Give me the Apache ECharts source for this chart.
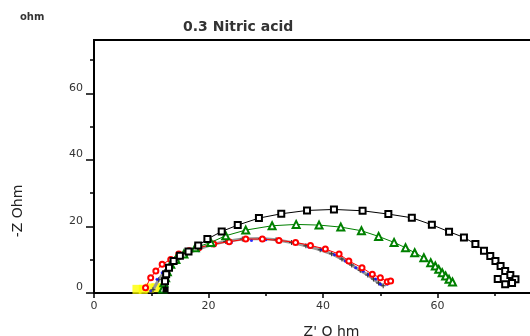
<!DOCTYPE html>
<html>
<head>
<meta charset="utf-8">
<script src="https://cdn.jsdelivr.net/npm/echarts@6/dist/echarts.min.js"></script>
<style>
html,body{margin:0;padding:0;background:#fff;}
#chart{width:530px;height:336px;}
</style>
</head>
<body>
<div id="chart"></div>
<script>
// ---- data (Z' in ohm, -Z'' in ohm) ----
var titleText = '0.3 Nitric acid';
var xName = "Z' O hm";
var yName = '-Z Ohm';
var unitText = 'ohm';

var xTicks = [0, 20, 40, 60];
var xMinorTicks = [10, 30, 50, 70];
var yTicks = [0, 20, 40, 60];
var yMinorTicks = [10, 30, 50, 70];

var redX = [9.0, 9.9, 10.8, 11.9, 13.4, 14.8, 16.6, 18.3, 20.9, 23.6, 26.5, 29.4, 32.3, 35.2, 37.8, 40.4, 42.8, 44.5, 46.8, 48.6, 50.0, 51.2, 51.8];
var redY = [1.6, 4.6, 6.6, 8.6, 10.1, 11.7, 12.7, 13.6, 14.7, 15.4, 16.2, 16.2, 15.8, 15.2, 14.3, 13.2, 11.7, 9.6, 7.6, 5.6, 4.6, 3.4, 3.6];

var blueX = [9.9, 11.0, 11.9, 13.1, 14.3, 15.7, 18.3, 21.0, 24.0, 27.5, 30.0, 32.3, 35.0, 37.5, 39.8, 42.0, 43.9, 45.7, 47.0, 48.0, 49.2, 50.0, 51.2];
var blueY = [0.6, 4.1, 6.1, 8.1, 9.6, 11.1, 12.7, 14.2, 15.2, 15.8, 16.0, 15.9, 15.2, 13.8, 13.1, 11.5, 9.6, 7.6, 6.5, 5.6, 4.2, 2.6, 2.6];

var grayX = [10.3, 11.3, 12.3, 13.5, 14.8, 16.3, 18.0, 20.5, 23.0, 25.9, 29.1, 31.8, 34.5, 37.0, 39.5, 41.5, 43.3, 45.0, 46.5, 47.8, 48.8, 49.7, 50.5];
var grayY = [1.0, 4.0, 6.4, 8.5, 10.2, 11.8, 13.1, 14.5, 15.5, 16.2, 16.4, 16.0, 15.2, 14.2, 13.0, 11.8, 10.2, 8.4, 6.8, 5.4, 4.2, 3.0, 2.2];

var greenX = [12.0, 12.2, 12.5, 12.8, 13.4, 14.3, 15.7, 17.7, 20.4, 23.0, 26.5, 31.1, 35.3, 39.3, 43.1, 46.7, 49.7, 52.4, 54.4, 56.0, 57.6, 58.8, 59.6, 60.2, 60.8, 61.4, 62.0, 62.6];
var greenY = [1.2, 3.1, 4.6, 6.4, 8.6, 10.1, 11.7, 13.6, 15.2, 17.2, 18.9, 20.2, 20.6, 20.4, 19.8, 18.7, 17.0, 15.2, 13.6, 12.1, 10.6, 9.1, 8.1, 7.1, 6.1, 5.1, 4.1, 3.3];

var blackX = [12.5, 12.4, 12.6, 13.1, 13.9, 15.0, 16.5, 18.2, 19.8, 22.3, 25.1, 28.8, 32.7, 37.2, 41.9, 46.9, 51.4, 55.5, 59.0, 62.0, 64.6, 66.6, 68.1, 69.2, 70.1, 71.0, 71.8, 72.7, 73.6, 73.0, 71.8, 70.5];
var blackY = [1.0, 3.5, 5.6, 7.6, 9.6, 11.2, 12.5, 14.3, 16.2, 18.5, 20.4, 22.5, 23.8, 24.8, 25.1, 24.7, 23.7, 22.6, 20.5, 18.4, 16.7, 14.7, 12.7, 11.1, 9.6, 8.1, 6.6, 5.4, 4.1, 3.0, 2.6, 4.2];

var yellowX = [7.5, 8.6, 9.7, 10.8, 11.9];
var yellowY = [1.1, 1.1, 1.5, 1.6, 1.6];

function pairs(xs, ys) { return xs.map(function (x, i) { return [x, ys[i]]; }); }

var FONT = 'DejaVu Sans';
var chart = echarts.init(document.getElementById('chart'), null, {renderer: 'canvas'});

var blackData = pairs(blackX, blackY).map(function (p, i) {
  return i === 0 ? {value: p, symbol: 'rect', itemStyle: {color: '#000'}} : p;
});

chart.setOption({
  animation: false,
  backgroundColor: '#fff',
  title: {
    text: titleText,
    left: 178, top: 15,
    textStyle: {fontFamily: FONT, fontSize: 14, fontWeight: 'bold', color: '#333'}
  },
  grid: {
    left: 94, top: 40, width: 465, height: 253,
    outerBoundsMode: 'none', containLabel: false,
    show: true, borderColor: '#000', borderWidth: 2, backgroundColor: 'transparent'
  },
  xAxis: [{
    type: 'value', min: 0, max: 81.2, interval: 20,
    name: xName, nameLocation: 'middle', nameGap: 32,
    nameTextStyle: {fontFamily: FONT, fontSize: 14, color: '#222', padding: [0, 0, 0, 10]},
    axisLine: {show: true, onZero: false, lineStyle: {color: '#000', width: 2}},
    axisTick: {show: true, length: 5, customValues: xTicks, lineStyle: {color: '#000', width: 1.5}},
    axisLabel: {show: true, customValues: xTicks, margin: 8, fontFamily: FONT, fontSize: 11, color: '#333'},
    splitLine: {show: false}
  }, {
    type: 'value', min: 0, max: 81.2, interval: 10, position: 'top', offset: -253,
    axisLine: {show: false, onZero: false},
    axisTick: {show: true, inside: true, length: 3, customValues: xMinorTicks, lineStyle: {color: '#000', width: 1.5}},
    axisLabel: {show: false},
    splitLine: {show: false}
  }],
  yAxis: [{
    type: 'value', min: 0, max: 76, interval: 20,
    axisLine: {show: true, onZero: false, lineStyle: {color: '#000', width: 2}},
    axisTick: {show: true, length: 8, customValues: yTicks, lineStyle: {color: '#000', width: 1.5}},
    axisLabel: {show: true, customValues: yTicks, margin: 11, verticalAlign: 'bottom', fontFamily: FONT, fontSize: 11, color: '#333'},
    splitLine: {show: false}
  }, {
    type: 'value', min: 0, max: 76, interval: 10, position: 'right', offset: -465,
    axisLine: {show: false, onZero: false},
    axisTick: {show: true, inside: true, length: 4, customValues: yMinorTicks, lineStyle: {color: '#000', width: 1.5}},
    axisLabel: {show: false},
    splitLine: {show: false}
  }],
  graphic: [{
    type: 'text', left: 20, top: 12,
    style: {text: unitText, font: 'bold 10px "DejaVu Sans"', fill: '#333'}
  }, {
    type: 'text', x: 18, y: 211, rotation: Math.PI / 2,
    style: {text: yName, font: '14px "DejaVu Sans"', fill: '#222', align: 'center', verticalAlign: 'middle'}
  }],
  series: [{
    name: 'yellow', type: 'scatter', data: pairs(yellowX, yellowY),
    symbol: 'rect', symbolSize: 9, itemStyle: {color: '#ffff00'}, z: 1
  }, {
    name: 'gray', type: 'line', data: pairs(grayX, grayY),
    symbol: 'path://M4,0H6V4H10V6H6V10H4V6H0V4H4Z', symbolSize: 5,
    itemStyle: {color: '#333'}, lineStyle: {color: '#999', width: 3}, z: 2
  }, {
    name: 'blue', type: 'scatter', data: pairs(blueX, blueY),
    symbol: 'circle', symbolSize: 3, itemStyle: {color: '#0000ff'}, z: 3
  }, {
    name: 'red', type: 'line', data: pairs(redX, redY),
    symbol: 'emptyCircle', symbolSize: 5,
    itemStyle: {color: '#ff0000', borderWidth: 1}, lineStyle: {color: '#ff0000', width: 1}, z: 4
  }, {
    name: 'green', type: 'line', data: pairs(greenX, greenY),
    symbol: 'emptyTriangle', symbolSize: 7,
    itemStyle: {color: '#008000', borderWidth: 1}, lineStyle: {color: '#008000', width: 1}, z: 5
  }, {
    name: 'black', type: 'line', data: blackData,
    symbol: 'emptyRect', symbolSize: 6,
    itemStyle: {color: '#000', borderWidth: 1}, lineStyle: {color: '#000', width: 1}, z: 6
  }]
});
</script>
</body>
</html>
